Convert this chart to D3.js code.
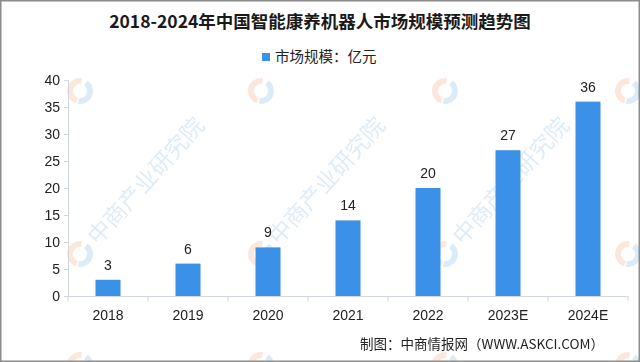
<!DOCTYPE html>
<html><head><meta charset="utf-8">
<script src="https://cdn.jsdelivr.net/npm/d3@7"></script>
<style>html,body{margin:0;padding:0;background:#fff;}svg{display:block;}</style>
</head><body>
<svg id="c" width="640" height="362"></svg>
<script>
const categories = ["2018","2019","2020","2021","2022","2023E","2024E"];
const values = [3,6,9,14,20,27,36];
const yTicks = [0,5,10,15,20,25,30,35,40];
const title = "2018-2024年中国智能康养机器人市场规模预测趋势图";
const legendLabel = "市场规模：亿元";
const sourceText = "制图：中商情报网（WWW.ASKCI.COM）";
const watermarkText = "中商产业研究院";

const W = 640, H = 362;
const svg = d3.select("#c");
const cjk = "'Noto Sans CJK SC','Noto Sans',sans-serif";
const num = "'Liberation Sans',Arial,sans-serif";

svg.append("rect").attr("width",W).attr("height",H).attr("fill","#fff");

// watermarks (logos everywhere, text only where it fits inside the picture)
const wm = svg.append("g").attr("opacity",0.2);
const wmX = [80, 261, 445, 628];
const wmY = [91, 254, 365];
wmY.forEach((yy,ri)=>{
  wmX.forEach(xx=>{
    const g = wm.append("g").attr("transform",`translate(${xx},${yy})`);
    g.append("path").attr("d",d3.arc()({innerRadius:7,outerRadius:13,startAngle:Math.PI*1.1,endAngle:Math.PI*2.05})).attr("fill","#f08a4b");
    g.append("path").attr("d",d3.arc()({innerRadius:7,outerRadius:13,startAngle:Math.PI*0.2,endAngle:Math.PI*1.05})).attr("fill","#4a9ad8");
    if (yy === 254 && xx < 600) {
      g.append("text").attr("x",18).attr("y",8).attr("transform","rotate(-48)")
        .attr("font-family",cjk).attr("font-size",23).attr("fill","#5aa0d8").text(watermarkText);
    }
  });
});

const x = d3.scaleBand().domain(categories).range([68,628]).paddingInner(0.6875).paddingOuter(0.34375);
const y = d3.scaleLinear().domain([0,40]).range([296,80]);

// title
svg.append("text").attr("x",320).attr("y",28).attr("text-anchor","middle")
  .attr("font-family",cjk).attr("font-weight","bold").attr("font-size",17.5).attr("fill","#1a1a1a").text(title);

// legend
svg.append("rect").attr("x",262).attr("y",53).attr("width",8).attr("height",8).attr("fill","#3b91e8");
svg.append("text").attr("x",275).attr("y",62).attr("font-family",cjk).attr("font-size",14.5).attr("fill","#222").text(legendLabel);

// y axis
const yAxis = d3.axisLeft(y).tickValues(yTicks).tickSize(4).tickPadding(4);
const ya = svg.append("g").attr("transform","translate(68,0)").call(yAxis);
ya.select(".domain").attr("stroke","#d0d6de");
ya.selectAll(".tick line").attr("stroke","#d0d6de");
ya.selectAll(".tick text").attr("font-family",num).attr("font-size",14).attr("fill","#222");

// bars
svg.append("g").selectAll("rect").data(values).join("rect")
  .attr("x",(d,i)=>x(categories[i])).attr("width",x.bandwidth())
  .attr("y",d=>y(d)).attr("height",d=>y(0)-y(d)).attr("fill","#3b91e8");

// value labels
svg.append("g").selectAll("text").data(values).join("text")
  .attr("x",(d,i)=>x(categories[i])+x.bandwidth()/2).attr("y",d=>y(d)-10)
  .attr("text-anchor","middle").attr("font-family",num).attr("font-size",14).attr("fill","#222").text(d=>d);

// x axis
const xAxis = d3.axisBottom(x).tickSize(0).tickPadding(14);
const xa = svg.append("g").attr("transform","translate(0,296)").call(xAxis);
xa.select(".domain").attr("stroke","#d0d6de");
xa.selectAll(".tick text").attr("font-family",num).attr("font-size",14).attr("fill","#222");
const step = x.step();
const bounds = d3.range(categories.length+1).map(i=>68 + i*step);
xa.selectAll(".bt").data(bounds).join("line").attr("class","bt")
  .attr("x1",d=>d).attr("x2",d=>d).attr("y1",0).attr("y2",5).attr("stroke","#d0d6de");

// source
svg.append("text").attr("x",604).attr("y",349).attr("text-anchor","end")
  .attr("font-family",cjk).attr("font-size",13.5).attr("fill","#222").text(sourceText);

// border
svg.append("rect").attr("x",0.75).attr("y",0.75).attr("width",W-1.5).attr("height",H-1.5)
  .attr("fill","none").attr("stroke","#8c8c8c").attr("stroke-width",1.5);
</script>
</body></html>
